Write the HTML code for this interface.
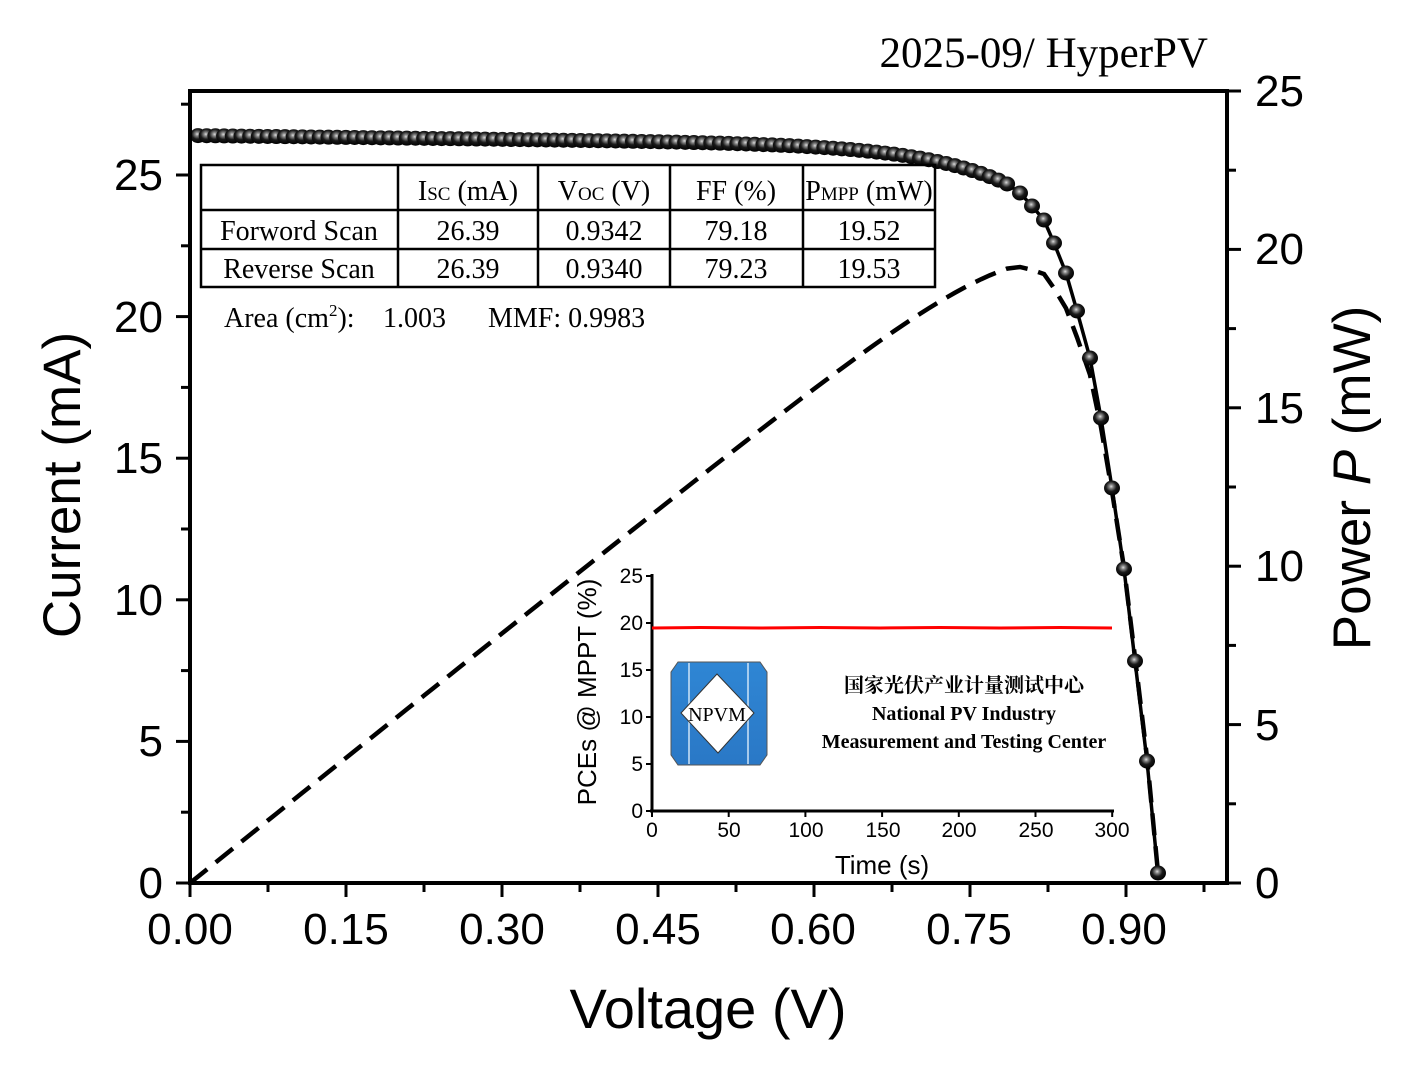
<!DOCTYPE html>
<html><head><meta charset="utf-8"><style>
body{margin:0;background:#fff;}
svg{display:block;}
.ar{font-family:"Liberation Sans",Arial,sans-serif;}
.tm{font-family:"Liberation Serif","Times New Roman",serif;}
</style></head><body>
<svg id="s" width="1428" height="1091" viewBox="0 0 1428 1091" xmlns="http://www.w3.org/2000/svg">
<defs>
<radialGradient id="g" cx="0.45" cy="0.4" r="0.6">
<stop offset="0" stop-color="#ddd"/><stop offset="0.2" stop-color="#888"/><stop offset="0.55" stop-color="#1a1a1a"/><stop offset="1" stop-color="#000"/>
</radialGradient>
<linearGradient id="lb" x1="0" y1="0" x2="0" y2="1"><stop offset="0" stop-color="#2f86d4"/><stop offset="1" stop-color="#2a78c6"/></linearGradient>
</defs>
<rect width="1428" height="1091" fill="#fff"/>
<text class="tm" x="1208" y="67" font-size="43" text-anchor="end">2025-09/ HyperPV</text>
<g id="curves"></g>
<rect x="190" y="91" width="1037" height="792" fill="none" stroke="#000" stroke-width="4"/>
<g id="ticks" stroke="#000" stroke-width="3"></g>
<g class="ar" font-size="44">
<text x="163" y="898" text-anchor="end">0</text>
<text x="163" y="756" text-anchor="end">5</text>
<text x="163" y="615" text-anchor="end">10</text>
<text x="163" y="473" text-anchor="end">15</text>
<text x="163" y="332" text-anchor="end">20</text>
<text x="163" y="190" text-anchor="end">25</text>
<text x="1255" y="898">0</text>
<text x="1255" y="740">5</text>
<text x="1255" y="581">10</text>
<text x="1255" y="423">15</text>
<text x="1255" y="264">20</text>
<text x="1255" y="106">25</text>
<g text-anchor="middle">
<text x="190" y="944">0.00</text><text x="346" y="944">0.15</text><text x="502" y="944">0.30</text><text x="658" y="944">0.45</text><text x="813" y="944">0.60</text><text x="969" y="944">0.75</text><text x="1124" y="944">0.90</text>
</g>
<text x="708" y="1028" font-size="56" text-anchor="middle">Voltage (V)</text>
<text transform="translate(80,485) rotate(-90)" font-size="53" text-anchor="middle">Current (mA)</text>
<text transform="translate(1370,478) rotate(-90)" font-size="53" text-anchor="middle">Power <tspan font-style="italic">P</tspan> (mW)</text>
</g>
<g stroke="#000" stroke-width="2.5" fill="none">
<rect x="201" y="165" width="734" height="122"/>
<line x1="201" y1="210" x2="935" y2="210"/><line x1="201" y1="249" x2="935" y2="249"/>
<line x1="398" y1="165" x2="398" y2="287"/><line x1="538" y1="165" x2="538" y2="287"/><line x1="670" y1="165" x2="670" y2="287"/><line x1="803" y1="165" x2="803" y2="287"/>
</g>
<g class="tm" font-size="28" text-anchor="middle">
<text x="468" y="200">I<tspan font-size="19">SC</tspan> (mA)</text>
<text x="604" y="200">V<tspan font-size="19">OC</tspan> (V)</text>
<text x="736" y="200">FF (%)</text>
<text x="869" y="200">P<tspan font-size="19">MPP</tspan> (mW)</text>
<text x="299" y="240">Forword Scan</text><text x="468" y="240">26.39</text><text x="604" y="240">0.9342</text><text x="736" y="240">79.18</text><text x="869" y="240">19.52</text>
<text x="299" y="278">Reverse Scan</text><text x="468" y="278">26.39</text><text x="604" y="278">0.9340</text><text x="736" y="278">79.23</text><text x="869" y="278">19.53</text>
</g>
<g class="tm" font-size="28">
<text x="224" y="327">Area (cm<tspan font-size="17" dy="-11">2</tspan><tspan dy="11">):</tspan></text>
<text x="383" y="327">1.003</text>
<text x="488" y="327">MMF: 0.9983</text>
</g>
<g stroke="#000" stroke-width="3">
<line x1="652" y1="574" x2="652" y2="811"/><line x1="650" y1="811" x2="1114" y2="811"/>
</g>
<g stroke="#000" stroke-width="2" id="iticks"></g>
<polyline points="652,628 700,627.5 760,628 820,627.5 880,628 940,627.5 1000,628 1060,627.5 1112,628" fill="none" stroke="#f00" stroke-width="3"/>
<g class="ar" font-size="21">
<text x="643" y="818" text-anchor="end">0</text><text x="643" y="771" text-anchor="end">5</text><text x="643" y="724" text-anchor="end">10</text><text x="643" y="677" text-anchor="end">15</text><text x="643" y="630" text-anchor="end">20</text><text x="643" y="583" text-anchor="end">25</text>
<g text-anchor="middle"><text x="652" y="837">0</text><text x="729" y="837">50</text><text x="806" y="837">100</text><text x="883" y="837">150</text><text x="959" y="837">200</text><text x="1036" y="837">250</text><text x="1112" y="837">300</text></g>
<text x="882" y="874" font-size="26" text-anchor="middle">Time (s)</text>
<text transform="translate(596,692) rotate(-90)" font-size="26" text-anchor="middle">PCEs @ MPPT (%)</text>
</g>
<polygon points="678,662 760,662 767,672 767,755 760,765 678,765 671,755 671,672" fill="url(#lb)" stroke="#555" stroke-width="1"/>
<line x1="689" y1="663" x2="689" y2="764" stroke="#cfe4f7" stroke-width="1.5"/>
<line x1="748" y1="663" x2="748" y2="764" stroke="#cfe4f7" stroke-width="1.5"/>
<polygon points="717,674 754,713 718,753 681,713" fill="#fff" stroke="#333" stroke-width="1"/>
<text class="tm" x="717" y="721" font-size="20" text-anchor="middle">NPVM</text>
<g class="tm" font-weight="bold" font-size="20" text-anchor="middle">
<text x="964" y="692" font-family="'Noto Serif CJK SC','Liberation Serif',serif">国家光伏产业计量测试中心</text>
<text x="964" y="720">National PV Industry</text>
<text x="964" y="748">Measurement and Testing Center</text>
</g>
</svg>
<script>
var NS="http://www.w3.org/2000/svg";
function el(t,a,p){var e=document.createElementNS(NS,t);for(var k in a)e.setAttribute(k,a[k]);p.appendChild(e);return e;}
var cur=document.getElementById('curves'),tk=document.getElementById('ticks'),it=document.getElementById('iticks');
var pts=[];
for(var x=198;x<=1012;x+=8.7){var y=135.5+0.012*(x-190)+40*Math.exp((x-1010)/85);pts.push([x,y]);}
[[1020,193],[1032,206],[1044,220],[1054,243],[1066,273],[1077,311],[1090,358],[1101,418],[1112,488],[1124,569],[1135,661],[1147,761],[1158,873]].forEach(function(p){pts.push(p);});
var pp=[[190,883]];
pts.forEach(function(p){var V=(p[0]-190)/1040,I=(883-p[1])/28.32;pp.push([p[0],883-V*I*31.68]);});
el('polyline',{points:pp.map(function(p){return p.join(',')}).join(' '),fill:'none',stroke:'#000','stroke-width':4.5,'stroke-dasharray':'22,11'},cur);
el('polyline',{points:pts.map(function(p){return p.join(',')}).join(' '),fill:'none',stroke:'#000','stroke-width':3.5},cur);
pts.forEach(function(p){el('ellipse',{cx:p[0],cy:p[1],rx:8,ry:7.5,fill:'url(#g)'},cur);});
for(var i=0;i<=11;i++){var y=883-i*2.5*28.32;if(y<91)break;el('line',{x1:i%2?181:176,y1:y,x2:190,y2:y},tk);}
for(var i=0;i<=10;i++){var y=883-i*2.5*31.68;el('line',{x1:1227,y1:y,x2:i%2?1236:1241,y2:y},tk);}
for(var i=0;i<=13;i++){var x=190+i*0.075*1040;if(x>1227)break;el('line',{x1:x,y1:883,x2:x,y2:i%2?892:897},tk);}
for(var i=0;i<=6;i++){el('line',{x1:652+i*76.7,y1:811,x2:652+i*76.7,y2:817},it);if(i<6)el('line',{x1:646,y1:811-i*47,x2:652,y2:811-i*47},it);}
</script>
</body></html>
